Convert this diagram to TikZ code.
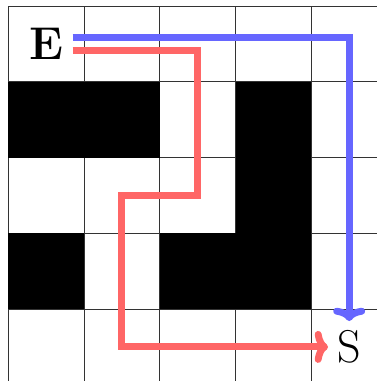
\documentclass[tikz,border=0pt]{standalone}
\usetikzlibrary{arrows.meta}

\tikzset{
  wall/.style={fill=black},
  route/.style={line width=2.6pt,-{To[length=5pt,width=12pt,round]}},
  label/.style={font=\LARGE}
}

\begin{document}
\begin{tikzpicture}
\useasboundingbox (-0.11,0.05) rectangle (4.86,5.08);
\draw[black!80,line width=0.4pt] (0,0) grid (5,5);
% walls
\fill[wall] (0,3) rectangle (2,4);
\fill[wall] (3,3) rectangle (4,4);
\fill[wall] (3,2) rectangle (4,3);
\fill[wall] (0,1) rectangle (1,2);
\fill[wall] (2,1) rectangle (4,2);
% end points
\node[label] (E) at (0.5,4.5) {\textbf{E}};
\node[label] (S) at (4.5,0.5) {S};
\coordinate (redstart) at ([yshift=-0.085cm]E.east);
\coordinate (bluestart) at ([yshift=0.085cm]E.east);
% routes
\draw[route,blue!60] (bluestart) -| (S.north);
\draw[route,red!60] (redstart) -| (2.5,2.5) -| (1.5,0.5) -- (S.west);
\end{tikzpicture}
\end{document}
